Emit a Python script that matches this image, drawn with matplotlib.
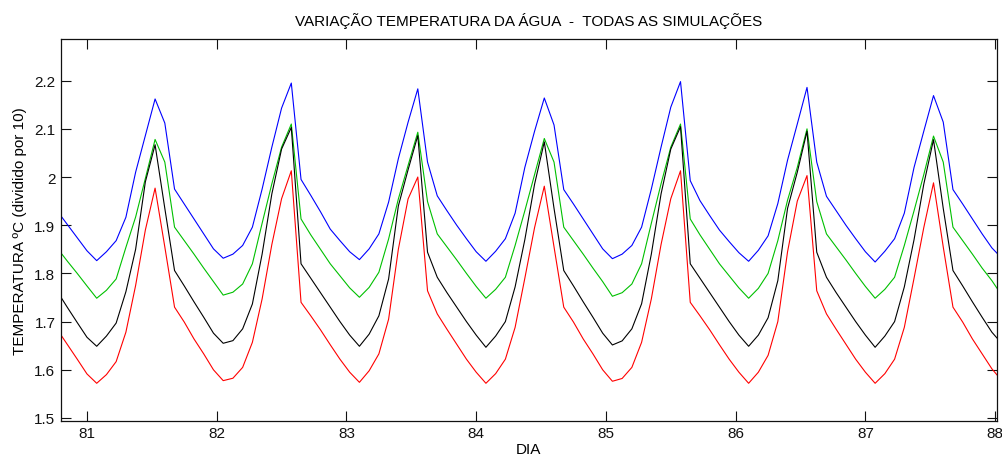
import matplotlib
matplotlib.use('Agg')
import matplotlib.pyplot as plt
import numpy as np

plt.rcParams['font.family'] = ['Liberation Sans', 'DejaVu Sans']

# time axis: one sample every 0.075 day (1.8 h), from day 80.775 to 88.05
dia = np.arange(1077, 1175) * 0.075

temp_azul = [1.928, 1.901, 1.874, 1.847, 1.8265, 1.845, 1.868, 1.9165, 2.010, 2.086,
             2.162, 2.112, 1.975, 1.944, 1.913, 1.882, 1.851, 1.8315, 1.840, 1.858,
             1.896, 1.975, 2.062, 2.143, 2.195, 1.995, 1.962, 1.928, 1.892, 1.868,
             1.845, 1.8286, 1.851, 1.882, 1.948, 2.038, 2.1137, 2.183, 2.031, 1.961,
             1.930, 1.900, 1.872, 1.845, 1.8252, 1.846, 1.872, 1.925, 2.020, 2.095,
             2.164, 2.108, 1.974, 1.944, 1.913, 1.882, 1.851, 1.8306, 1.840, 1.858,
             1.896, 1.975, 2.062, 2.145, 2.198, 1.9925, 1.951, 1.920, 1.890, 1.866,
             1.843, 1.8252, 1.848, 1.878, 1.945, 2.035, 2.110, 2.186, 2.031, 1.960,
             1.930, 1.900, 1.872, 1.845, 1.8237, 1.846, 1.872, 1.925, 2.020, 2.095,
             2.169, 2.114, 1.974, 1.944, 1.913, 1.882, 1.853, 1.832]

temp_verde = [1.851, 1.825, 1.800, 1.774, 1.7485, 1.765, 1.7885, 1.854, 1.917, 1.997,
              2.078, 2.031, 1.896, 1.868, 1.840, 1.811, 1.783, 1.755, 1.761, 1.778,
              1.820, 1.904, 1.986, 2.062, 2.110, 1.913, 1.880, 1.850, 1.820, 1.795,
              1.770, 1.7505, 1.771, 1.8024, 1.8715, 1.9545, 2.024, 2.093, 1.949, 1.882,
              1.855, 1.828, 1.800, 1.773, 1.7485, 1.767, 1.792, 1.858, 1.930, 2.005,
              2.080, 2.031, 1.896, 1.868, 1.840, 1.811, 1.783, 1.7526, 1.760, 1.778,
              1.820, 1.904, 1.986, 2.062, 2.110, 1.913, 1.880, 1.850, 1.820, 1.795,
              1.770, 1.7485, 1.769, 1.800, 1.868, 1.952, 2.020, 2.100, 1.949, 1.882,
              1.855, 1.828, 1.800, 1.773, 1.7485, 1.767, 1.792, 1.858, 1.930, 2.005,
              2.085, 2.031, 1.896, 1.868, 1.840, 1.811, 1.785, 1.755]

temp_preto = [1.761, 1.729, 1.698, 1.6675, 1.6488, 1.670, 1.697, 1.762, 1.850, 1.990,
              2.067, 1.935, 1.806, 1.774, 1.741, 1.709, 1.676, 1.655, 1.6605, 1.685,
              1.7366, 1.840, 1.965, 2.058, 2.103, 1.820, 1.790, 1.760, 1.730, 1.700,
              1.672, 1.6488, 1.674, 1.712, 1.7885, 1.940, 2.015, 2.086, 1.844, 1.792,
              1.760, 1.730, 1.700, 1.672, 1.6467, 1.670, 1.700, 1.772, 1.870, 1.985,
              2.073, 1.935, 1.806, 1.774, 1.741, 1.709, 1.676, 1.6515, 1.660, 1.685,
              1.737, 1.840, 1.965, 2.058, 2.1045, 1.820, 1.790, 1.760, 1.730, 1.700,
              1.672, 1.6488, 1.672, 1.708, 1.785, 1.935, 2.010, 2.095, 1.844, 1.792,
              1.760, 1.730, 1.700, 1.672, 1.6467, 1.670, 1.700, 1.772, 1.870, 1.985,
              2.0776, 1.935, 1.806, 1.774, 1.741, 1.709, 1.678, 1.655]

temp_vermelho = [1.682, 1.652, 1.622, 1.5914, 1.572, 1.590, 1.617, 1.678, 1.775, 1.890,
                 1.977, 1.855, 1.730, 1.699, 1.664, 1.633, 1.600, 1.5775, 1.5825, 1.605,
                 1.657, 1.747, 1.860, 1.955, 2.013, 1.740, 1.712, 1.683, 1.652, 1.622,
                 1.595, 1.574, 1.598, 1.633, 1.705, 1.850, 1.9545, 2.000, 1.764, 1.716,
                 1.684, 1.653, 1.622, 1.595, 1.572, 1.592, 1.622, 1.688, 1.790, 1.895,
                 1.981, 1.855, 1.730, 1.699, 1.664, 1.633, 1.600, 1.5762, 1.582, 1.605,
                 1.657, 1.747, 1.860, 1.955, 2.013, 1.740, 1.712, 1.683, 1.652, 1.622,
                 1.595, 1.572, 1.595, 1.630, 1.700, 1.845, 1.950, 2.003, 1.764, 1.716,
                 1.684, 1.653, 1.622, 1.595, 1.572, 1.592, 1.622, 1.688, 1.790, 1.895,
                 1.988, 1.855, 1.730, 1.699, 1.664, 1.633, 1.602, 1.578]

xticks = [81, 82, 83, 84, 85, 86, 87, 88]
yticks = [1.5, 1.6, 1.7, 1.8, 1.9, 2.0, 2.1, 2.2]
ytick_labels = ['1.5', '1.6', '1.7', '1.8', '1.9', '2', '2.1', '2.2']

fig = plt.figure(figsize=(10.02, 4.60), dpi=100)
ax = fig.add_axes([0.0609, 0.0833, 0.9338, 0.8298])

ax.plot(dia, temp_azul, color='#0000ff', lw=0.8)
ax.plot(dia, temp_verde, color='#00c000', lw=0.8)
ax.plot(dia, temp_preto, color='#000000', lw=0.8)
ax.plot(dia, temp_vermelho, color='#ff0000', lw=0.8)

ax.set_xlim(80.8, 88.012)
ax.set_ylim(1.4944, 2.2865)
ax.set_xticks(xticks)
ax.set_xticklabels([str(t) for t in xticks])
ax.set_yticks(yticks)
ax.set_yticklabels(ytick_labels)
ax.tick_params(direction='in', length=7, width=0.8, top=True, right=True,
               labelsize=11, pad=4, colors='#111111')
for s in ax.spines.values():
    s.set_linewidth(0.9)
    s.set_color('#111111')

ax.set_title('VARIAÇÃO TEMPERATURA DA ÁGUA  -  TODAS AS SIMULAÇÕES', fontsize=11, pad=10)
ax.set_xlabel('DIA', fontsize=11, labelpad=1)
ax.set_ylabel('TEMPERATURA ºC (dividido por 10)', fontsize=11, labelpad=5)

fig.savefig('out.png', dpi=100)
